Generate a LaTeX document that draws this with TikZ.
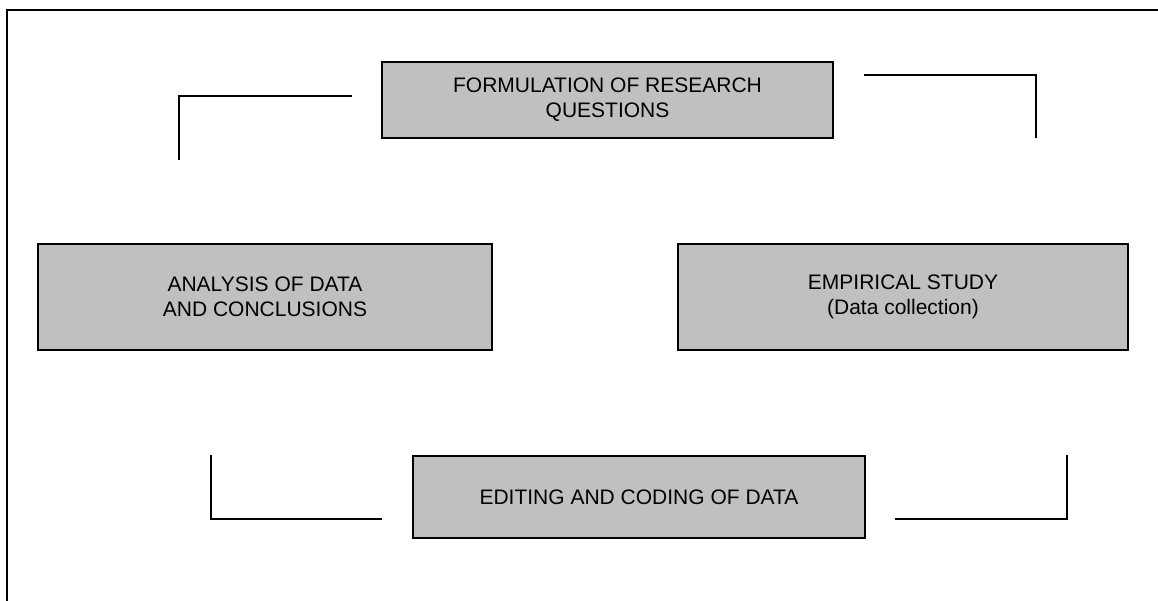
\documentclass[tikz,border=0pt]{standalone}
\usepackage{fontspec}
\setmainfont{Liberation Sans}
\begin{document}
\begin{tikzpicture}[x=1pt,y=-1pt,
  stage/.style={draw=black,line width=1.5pt,fill={rgb,255:red,192;green,192;blue,192},
    align=center,inner sep=0pt,font=\fontsize{21}{25}\selectfont},
  link/.style={draw=black,line width=1.4pt}]
\useasboundingbox (0,0) rectangle (1158,601);
\draw[line width=1.5pt] (7,601) -- (7,10) -- (1158,10);
\node[stage,minimum width=451pt,minimum height=76pt] (form) at (607.5,100)
  {FORMULATION OF RESEARCH\\QUESTIONS};
\node[stage,minimum width=454pt,minimum height=106pt] (anal) at (265,297)
  {ANALYSIS OF DATA\\AND CONCLUSIONS};
\node[stage,minimum width=450pt,minimum height=106pt] (emp) at (903,297)
  {EMPIRICAL STUDY\\(Data collection)};
\node[stage,minimum width=452pt,minimum height=82pt] (edit) at (639,497)
  {EDITING AND CODING OF DATA};
\coordinate (a1) at (352,96); \coordinate (a2) at (179,160);
\coordinate (b1) at (864,75); \coordinate (b2) at (1036,138);
\coordinate (c1) at (211,455); \coordinate (c2) at (382,519);
\coordinate (d1) at (895,519); \coordinate (d2) at (1067,455);
\draw[link] (a1) -| (a2);
\draw[link] (b1) -| (b2);
\draw[link] (c1) |- (c2);
\draw[link] (d1) -| (d2);
\end{tikzpicture}
\end{document}
